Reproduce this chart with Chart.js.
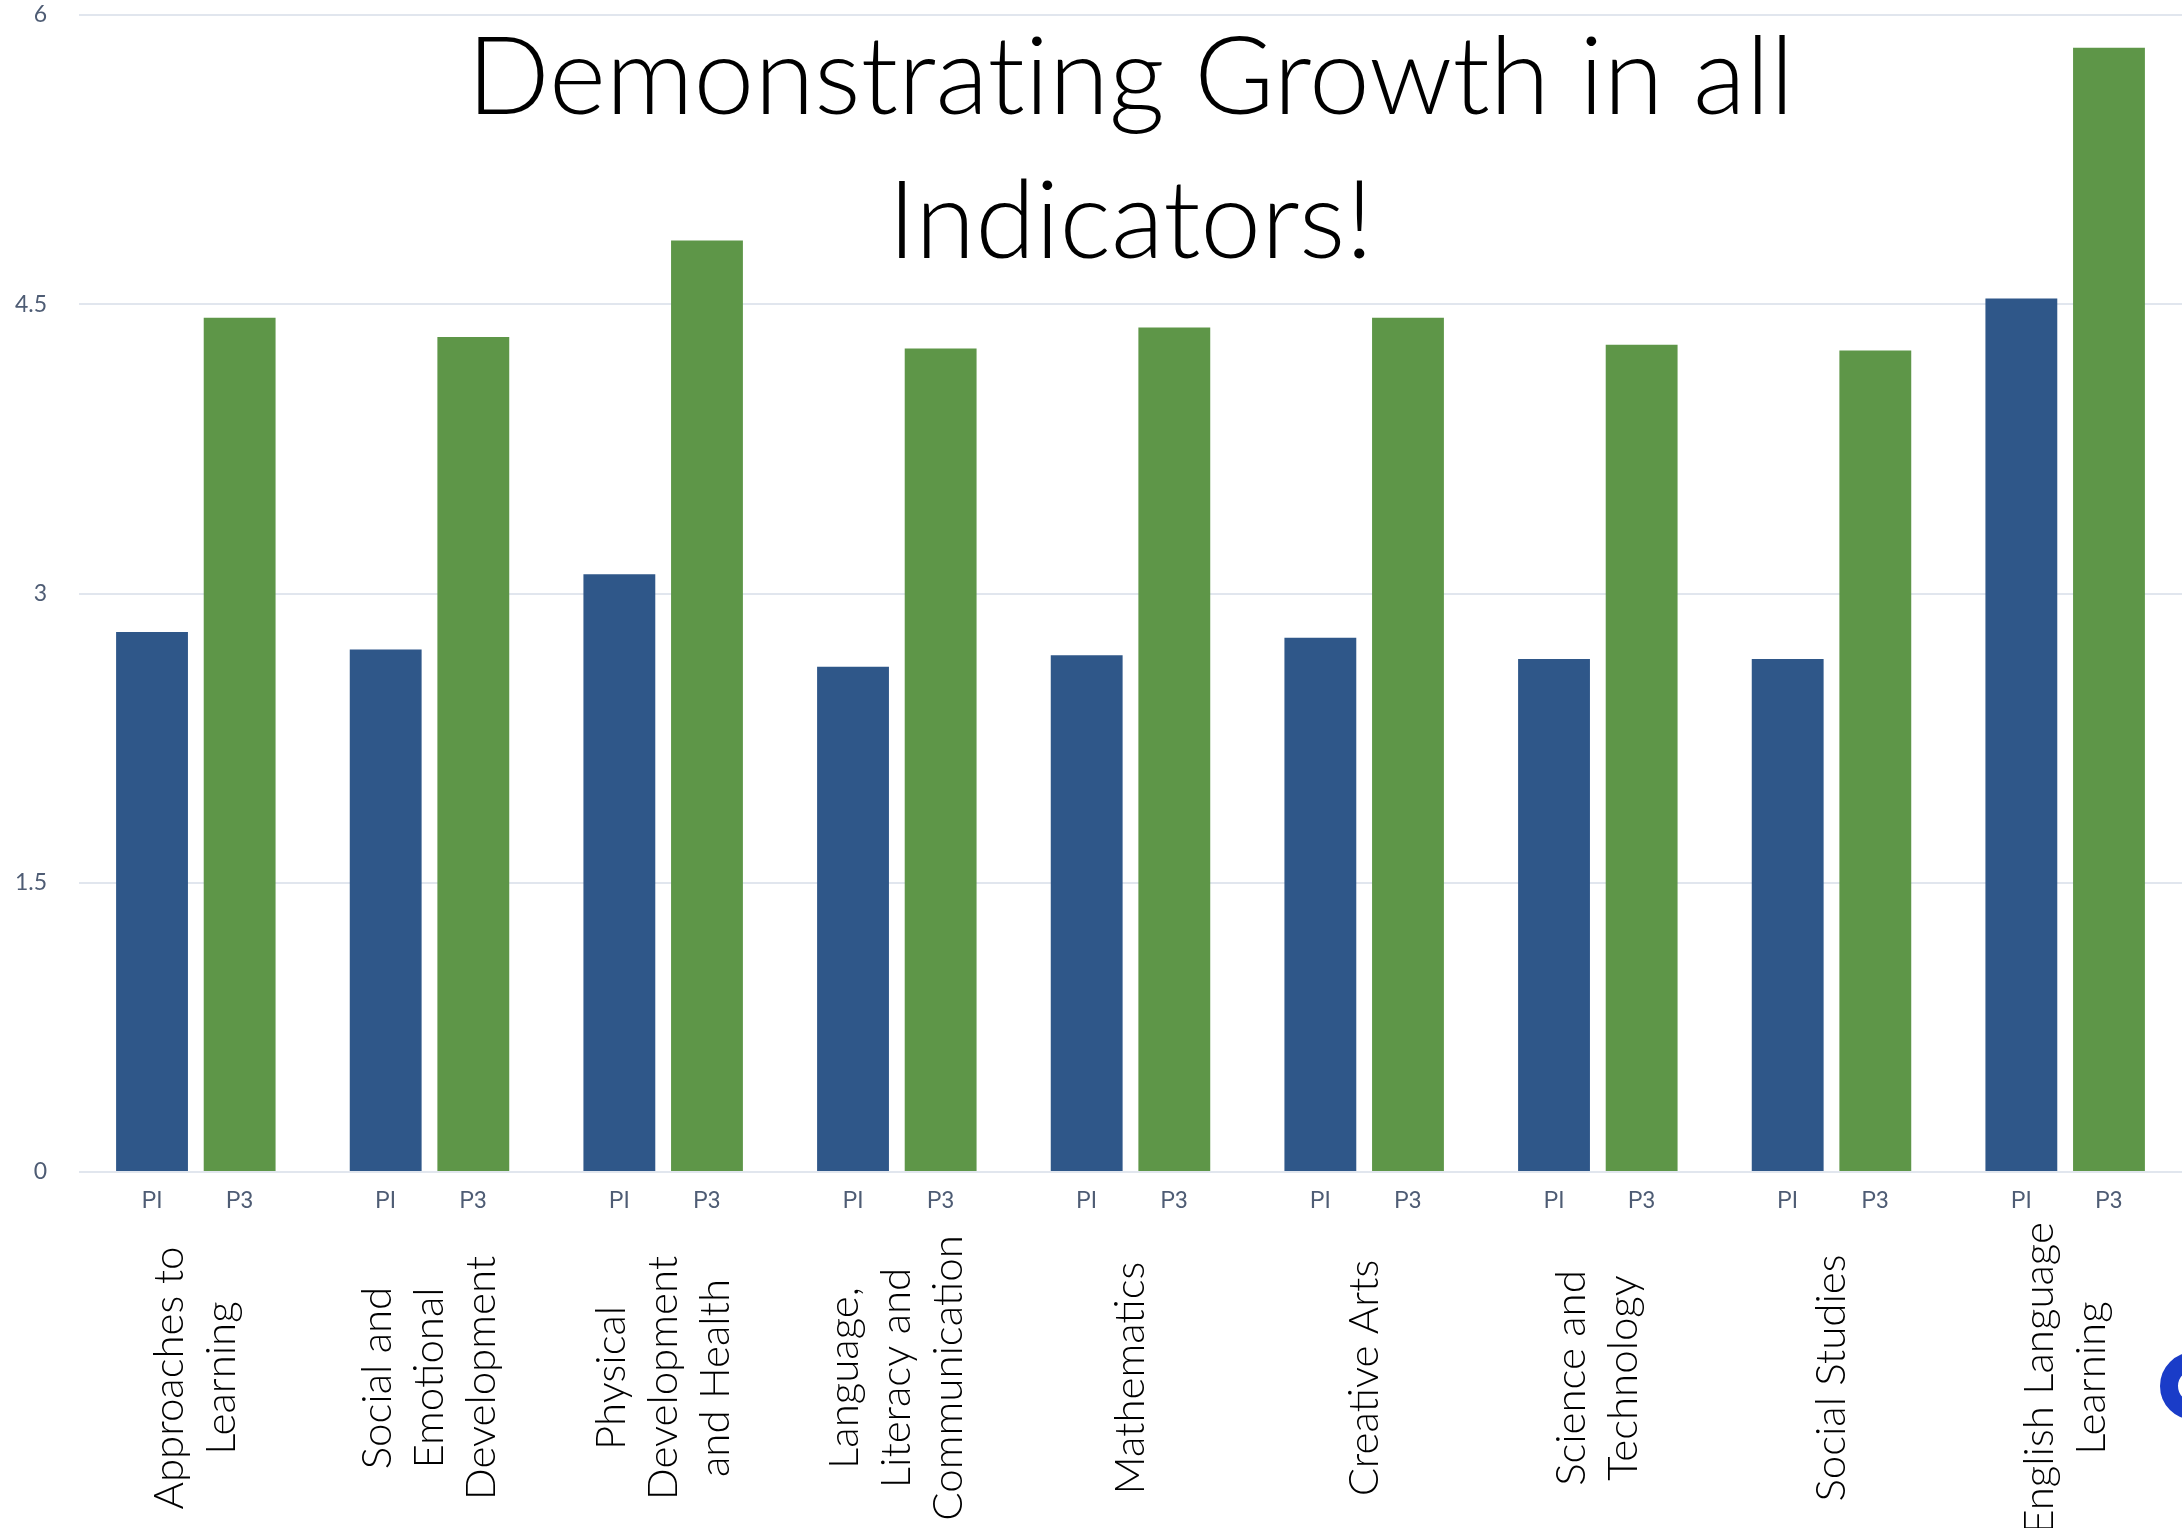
<!DOCTYPE html>
<html>
<head>
<meta charset="utf-8">
<script src="https://cdn.jsdelivr.net/npm/chart.js@4/dist/chart.umd.min.js"></script>
<style>
    html, body { margin: 0; padding: 0; background: #fff; overflow: hidden; }
    #wrap { position: relative; width: 2182px; height: 1528px; }
    #title {
        position: absolute; left: 79px; top: 0; width: 2103px;
        text-align: center; font-family: Lato, 'Noto Sans', sans-serif; font-weight: 300;
        font-variant-ligatures: none;
        font-size: 109px; line-height: 144px; color: #000; pointer-events: none;
    }
    #logo {
        position: absolute; left: 2160px; top: 1352px; width: 68px; height: 68px;
        box-sizing: border-box; border: 18px solid #1a3cc8; border-radius: 50%;
    }
</style>
</head>
<body>
<div id="wrap">
    <canvas id="growthChart"></canvas>
    <div id="title">Demonstrating Growth in all<br>Indicators!</div>
    <div id="logo"></div>
</div>
<script>
// カテゴリー（複数行ラベル）
const categories = [
    ['Approaches to', 'Learning'],
    ['Social and', 'Emotional', 'Development'],
    ['Physical', 'Development', 'and Health'],
    ['Language,', 'Literacy and', 'Communication'],
    ['Mathematics'],
    ['Creative Arts'],
    ['Science and', 'Technology'],
    ['Social Studies'],
    ['English Language', 'Learning']
];
const seriesNames = ['PI', 'P3'];
const piValues = [2.80, 2.71, 3.10, 2.62, 2.68, 2.77, 2.66, 2.66, 4.53];
const p3Values = [4.43, 4.33, 4.83, 4.27, 4.38, 4.43, 4.29, 4.26, 5.83];
const yTicks = [0, 1.5, 3, 4.5, 6];

const labelColor = '#4e5c74';

// 棒の下に PI / P3、その下に回転したカテゴリー名を描く
const labelPlugin = {
    id: 'groupLabels',
    afterDraw(chart) {
        const ctx = chart.ctx;
        const xScale = chart.scales.x;
        const base = chart.chartArea.bottom;

        ctx.save();
        ctx.fillStyle = labelColor;
        ctx.font = "23px 'Liberation Sans Narrow', Roboto, sans-serif";
        ctx.textAlign = 'center';
        ctx.textBaseline = 'middle';
        chart.data.datasets.forEach((ds, i) => {
            chart.getDatasetMeta(i).data.forEach(bar => {
                ctx.fillText(ds.label, bar.x, base + 30);
            });
        });

        ctx.fillStyle = '#000';
        ctx.font = "300 42px Lato, 'Noto Sans', sans-serif";
        const lineHeight = 52;
        categories.forEach((lines, i) => {
            const x = xScale.getPixelForValue(i);
            ctx.save();
            ctx.translate(x, base + 206);
            ctx.rotate(-Math.PI / 2);
            lines.forEach((line, j) => {
                ctx.fillText(line, 0, (j - (lines.length - 1) / 2) * lineHeight);
            });
            ctx.restore();
        });
        ctx.restore();
    }
};

new Chart(document.getElementById('growthChart'), {
    type: 'bar',
    data: {
        labels: categories.map(c => c.join(' ')),
        datasets: [
            {
                label: seriesNames[0],
                data: piValues,
                backgroundColor: '#2f5789',
                categoryPercentage: 0.75,
                barPercentage: 0.82
            },
            {
                label: seriesNames[1],
                data: p3Values,
                backgroundColor: '#5e9648',
                categoryPercentage: 0.75,
                barPercentage: 0.82
            }
        ]
    },
    options: {
        responsive: true,
        maintainAspectRatio: false,
        devicePixelRatio: 1,
        animation: false,
        layout: { padding: { top: 15, right: 0, left: 0, bottom: 0 } },
        plugins: {
            legend: { display: false },
            tooltip: { enabled: false }
        },
        scales: {
            x: {
                grid: { display: false },
                border: { display: false },
                ticks: { display: false },
                afterFit(scale) { scale.height = 356; }
            },
            y: {
                min: 0,
                max: 6,
                afterBuildTicks(scale) {
                    scale.ticks = yTicks.map(v => ({ value: v }));
                },
                grid: { color: '#e1e6ee', lineWidth: 2, drawTicks: false },
                border: { display: false },
                ticks: {
                    padding: 32,
                    color: labelColor,
                    font: { family: "Lato, 'Noto Sans', sans-serif", size: 23 }
                },
                afterFit(scale) {
                    scale.width = 79;
                    scale.paddingTop = 0;
                    scale.paddingBottom = 0;
                }
            }
        }
    },
    plugins: [labelPlugin]
});
</script>
</body>
</html>
